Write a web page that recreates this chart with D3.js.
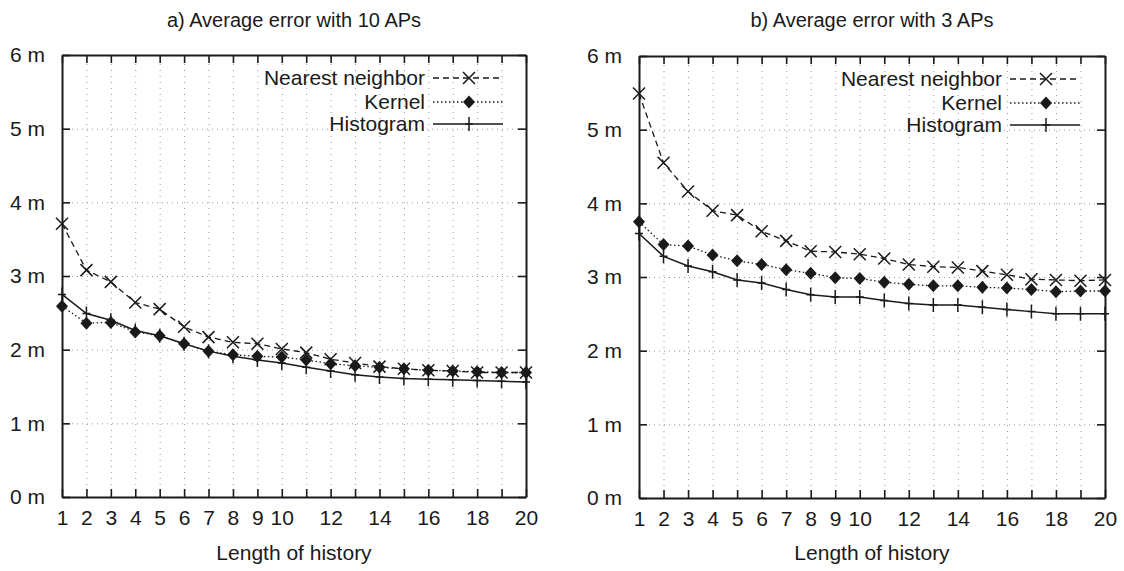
<!DOCTYPE html>
<html>
<head>
<meta charset="utf-8">
<script src="https://cdn.jsdelivr.net/npm/d3@7"></script>
<style>
  body { margin: 0; background: #fff; }
  svg { font-family: "Liberation Sans", Arial, Helvetica, sans-serif; }
</style>
</head>
<body>
<svg id="chart" width="1124" height="571"></svg>
<script>
// history lengths on the x axis
var historyLengths = [1, 2, 3, 4, 5, 6, 7, 8, 9, 10, 11, 12, 13, 14, 15, 16, 17, 18, 19, 20];
var xTickLabels = [1, 2, 3, 4, 5, 6, 7, 8, 9, 10, 12, 14, 16, 18, 20];
var yTicks = [0, 1, 2, 3, 4, 5, 6];
var seriesNames = ["Nearest neighbor", "Kernel", "Histogram"];

// a) 10 access points
var nn10 = [3.71, 3.08, 2.92, 2.64, 2.55, 2.31, 2.17, 2.10, 2.08, 2.01, 1.96, 1.87, 1.82, 1.77, 1.74, 1.72, 1.71, 1.69, 1.69, 1.69];
var kernel10 = [2.59, 2.36, 2.37, 2.24, 2.19, 2.08, 1.98, 1.93, 1.91, 1.90, 1.86, 1.81, 1.78, 1.76, 1.74, 1.72, 1.71, 1.70, 1.69, 1.69];
var hist10 = [2.75, 2.49, 2.40, 2.26, 2.19, 2.08, 1.98, 1.91, 1.86, 1.82, 1.76, 1.71, 1.66, 1.63, 1.61, 1.60, 1.59, 1.58, 1.57, 1.56];

// b) 3 access points
var nn3 = [5.49, 4.55, 4.16, 3.90, 3.84, 3.62, 3.49, 3.35, 3.34, 3.31, 3.25, 3.17, 3.14, 3.13, 3.08, 3.03, 2.97, 2.96, 2.95, 2.96];
var kernel3 = [3.75, 3.44, 3.42, 3.30, 3.22, 3.17, 3.10, 3.05, 2.99, 2.98, 2.93, 2.90, 2.88, 2.88, 2.86, 2.85, 2.83, 2.80, 2.81, 2.81];
var hist3 = [3.59, 3.28, 3.15, 3.07, 2.96, 2.92, 2.83, 2.76, 2.73, 2.73, 2.68, 2.64, 2.62, 2.62, 2.59, 2.56, 2.53, 2.50, 2.50, 2.50];

var svg = d3.select("#chart");
var ink = "#1a1a1a";

// line + marker style per series
var styles = [
  { dash: "6,4", marker: "x", width: 1.3 },
  { dash: "1.5,2.5", marker: "diamond", width: 1.3 },
  { dash: null, marker: "plus", width: 1.5 }
];

function drawMarker(g, type, x, y) {
  if (type === "x") {
    g.append("path")
      .attr("d", `M${x-6},${y-6}L${x+6},${y+6}M${x-6},${y+6}L${x+6},${y-6}`)
      .attr("stroke", ink).attr("stroke-width", 1.5).attr("fill", "none");
  } else if (type === "diamond") {
    g.append("path")
      .attr("d", `M${x},${y-6.5}L${x+6},${y}L${x},${y+6.5}L${x-6},${y}Z`)
      .attr("fill", ink);
  } else {
    g.append("path")
      .attr("d", `M${x-4},${y}L${x+4},${y}M${x},${y-7}L${x},${y+7}`)
      .attr("stroke", ink).attr("stroke-width", 1.5).attr("fill", "none");
  }
}

function panel(left, right, top, bottom, title, seriesData) {
  var g = svg.append("g");

  var xScale = d3.scaleLinear().domain([1, 20]).range([left, right]);
  var yScale = d3.scaleLinear().domain([0, 6]).range([bottom, top]);

  // dotted grid
  g.append("g")
    .attr("transform", `translate(0, ${bottom})`)
    .call(d3.axisBottom(xScale).tickValues(historyLengths.slice(1, 19)).tickSize(-(bottom - top)).tickFormat(""))
    .call(a => a.select(".domain").remove())
    .call(a => a.selectAll("line").attr("stroke", "#999").attr("stroke-dasharray", "1,5"));
  g.append("g")
    .attr("transform", `translate(${left}, 0)`)
    .call(d3.axisLeft(yScale).tickValues([1, 2, 3, 4, 5]).tickSize(-(right - left)).tickFormat(""))
    .call(a => a.select(".domain").remove())
    .call(a => a.selectAll("line").attr("stroke", "#999").attr("stroke-dasharray", "1,4"));

  // axes with inward ticks
  var bottomAxis = g.append("g")
    .attr("transform", `translate(0, ${bottom})`)
    .call(d3.axisBottom(xScale).tickValues(historyLengths).tickSizeInner(-8).tickSizeOuter(0).tickPadding(13)
      .tickFormat(d => xTickLabels.indexOf(d) >= 0 ? d : ""));
  var topAxis = g.append("g")
    .attr("transform", `translate(0, ${top})`)
    .call(d3.axisTop(xScale).tickValues(historyLengths).tickSizeInner(-8).tickSizeOuter(0).tickFormat(""));
  var leftAxis = g.append("g")
    .attr("transform", `translate(${left}, 0)`)
    .call(d3.axisLeft(yScale).tickValues(yTicks).tickSizeInner(-8).tickSizeOuter(0).tickPadding(17)
      .tickFormat(d => d + " m"));
  var rightAxis = g.append("g")
    .attr("transform", `translate(${right}, 0)`)
    .call(d3.axisRight(yScale).tickValues(yTicks).tickSizeInner(-8).tickSizeOuter(0).tickFormat(""));

  [bottomAxis, topAxis, leftAxis, rightAxis].forEach(a => {
    a.attr("font-size", null).attr("font-family", null);
    a.select(".domain").attr("stroke", ink).attr("stroke-width", 2);
    a.selectAll("line").attr("stroke", ink).attr("stroke-width", 1.6);
    a.selectAll("text").attr("fill", ink).style("font-size", "21px");
  });

  // series
  seriesData.forEach((vals, i) => {
    var st = styles[i];
    var line = d3.line().x((d, j) => xScale(historyLengths[j])).y(d => yScale(d));
    g.append("path")
      .attr("d", line(vals))
      .attr("fill", "none")
      .attr("stroke", ink)
      .attr("stroke-width", st.width)
      .attr("stroke-dasharray", st.dash);
    vals.forEach((v, j) => drawMarker(g, st.marker, xScale(historyLengths[j]), yScale(v)));
  });

  // legend
  var rowOffsets = [23, 47, 69];
  seriesNames.forEach((name, i) => {
    var st = styles[i];
    var ly = top + rowOffsets[i];
    g.append("text")
      .attr("x", left + 363).attr("y", ly)
      .attr("dy", "0.35em")
      .attr("text-anchor", "end")
      .attr("fill", ink)
      .style("font-size", "21px")
      .text(name);
    g.append("line")
      .attr("x1", left + 371).attr("x2", left + 441)
      .attr("y1", ly).attr("y2", ly)
      .attr("stroke", ink).attr("stroke-width", st.width)
      .attr("stroke-dasharray", st.dash);
    drawMarker(g, st.marker, left + 407, ly);
  });

  // titles
  g.append("text")
    .attr("x", (left + right) / 2).attr("y", 27)
    .attr("text-anchor", "middle").attr("fill", ink)
    .style("font-size", "20px")
    .text(title);
  g.append("text")
    .attr("x", (left + right) / 2).attr("y", 560)
    .attr("text-anchor", "middle").attr("fill", ink)
    .style("font-size", "21px")
    .text("Length of history");
}

panel(62, 526, 55, 497, "a) Average error with 10 APs", [nn10, kernel10, hist10]);
panel(639, 1105, 56, 498, "b) Average error with 3 APs", [nn3, kernel3, hist3]);
</script>
</body>
</html>
